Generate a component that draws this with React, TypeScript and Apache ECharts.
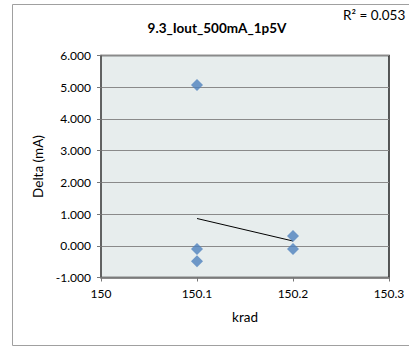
import React, { useEffect, useRef } from "react";
import * as echarts from "echarts";

const xTicks = { min: 150, max: 150.3, interval: 0.1 };
const yTicks = { min: -1, max: 6, interval: 1 };
const pointsX = [150.1, 150.1, 150.1, 150.2, 150.2];
const pointsY = [5.07, -0.1, -0.49, 0.31, -0.1];
const trendX = [150.1, 150.2];
const trendY = [0.86, 0.15];
const title = "9.3_Iout_500mA_1p5V";
const r2Label = "R² = 0.053";
const xName = "krad";
const yName = "Delta (mA)";

const FONT = "Lato, 'Open Sans', sans-serif";

export default function App() {
  const ref = useRef<HTMLDivElement>(null);
  useEffect(() => {
    const chart = echarts.init(ref.current!, null, { renderer: "svg" });
    chart.setOption({
      animation: false,
      backgroundColor: "#ffffff",
      textStyle: { fontFamily: FONT },
      grid: {
        left: 101,
        top: 55.5,
        right: 20,
        bottom: 69.5,
        show: true,
        backgroundColor: "#e7eded",
        borderColor: "#222",
        borderWidth: 1.5,
      },
      graphic: [
        {
          type: "rect",
          shape: { x: 12.5, y: 4.5, width: 420, height: 341 },
          style: { fill: "none", stroke: "#a0a0a0", lineWidth: 1 },
          silent: true,
          z: -10,
        },
        {
          type: "text",
          x: 217,
          y: 28,
          style: {
            text: title,
            fontFamily: FONT,
            fontWeight: "bold",
            fontSize: 13.5,
            fill: "#000",
            align: "center",
            verticalAlign: "middle",
          },
        },
        {
          type: "text",
          x: 343,
          y: 15,
          style: {
            text: r2Label,
            fontFamily: FONT,
            fontSize: 13.5,
            fill: "#000",
            align: "left",
            verticalAlign: "middle",
          },
        },
      ],
      xAxis: {
        type: "value",
        min: xTicks.min,
        max: xTicks.max,
        interval: xTicks.interval,
        name: xName,
        nameLocation: "middle",
        nameGap: 32,
        nameTextStyle: { fontSize: 13.5, color: "#000", fontFamily: FONT },
        axisLine: { show: true, onZero: false, lineStyle: { color: "#777", width: 1.5 } },
        axisTick: { show: true, inside: false, length: 4, lineStyle: { color: "#777" } },
        axisLabel: {
          fontSize: 12,
          color: "#000",
          margin: 10,
          fontFamily: FONT,
          formatter: (v: number) => String(Number(v.toFixed(1))),
        },
        splitLine: { show: false },
      },
      yAxis: {
        type: "value",
        min: yTicks.min,
        max: yTicks.max,
        interval: yTicks.interval,
        name: yName,
        nameLocation: "middle",
        nameGap: 49,
        nameRotate: 90,
        nameTextStyle: { fontSize: 13.5, color: "#000", fontFamily: FONT },
        axisLine: { show: true, lineStyle: { color: "#666", width: 1.5 } },
        axisTick: { show: true, inside: false, length: 4, lineStyle: { color: "#777" } },
        axisLabel: {
          fontSize: 12,
          color: "#000",
          margin: 10,
          fontFamily: FONT,
          formatter: (v: number) => v.toFixed(3),
        },
        splitLine: { show: true, lineStyle: { color: "#8a8a8a", width: 1 } },
      },
      series: [
        {
          type: "line",
          data: trendX.map((x, i) => [x, trendY[i]]),
          symbol: "none",
          lineStyle: { color: "#000", width: 1 },
          z: 3,
        },
        {
          type: "scatter",
          data: pointsX.map((x, i) => [x, pointsY[i]]),
          symbol: "diamond",
          symbolSize: 12,
          itemStyle: { color: "#4f81bd" },
          z: 4,
        },
      ],
    });
    return () => chart.dispose();
  }, []);
  return (
    <div
      ref={ref}
      style={{ position: "fixed", left: 0, top: 0, width: 409, height: 347 }}
    />
  );
}
